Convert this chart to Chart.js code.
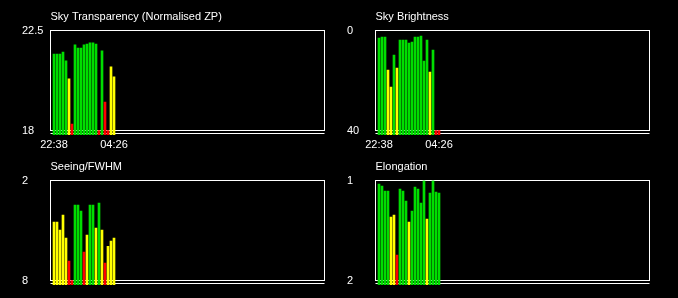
<!DOCTYPE html>
<html>
<head>
<meta charset="utf-8">
<script src="https://cdn.jsdelivr.net/npm/chart.js@4.4.1/dist/chart.umd.min.js"></script>
<style>
  html, body { margin: 0; padding: 0; background: #000; }
  #wrap { position: relative; width: 678px; height: 298px; overflow: hidden; }
  #wrap canvas { position: absolute; }
</style>
</head>
<body>
<div id="wrap">
  <canvas id="transp" width="330" height="150" style="left:0;top:0"></canvas>
  <canvas id="bright" width="330" height="150" style="left:325px;top:0"></canvas>
  <canvas id="seeing" width="330" height="150" style="left:0;top:150px"></canvas>
  <canvas id="elong" width="330" height="150" style="left:325px;top:150px"></canvas>
</div>
<script>
// time labels under the top row (first and last frame)
const timeLabels = ['22:38', '04:26'];
const timeLabelAt = [0, 20];

// one value per frame, 21 frames
const transparency = [21.44, 21.44, 21.44, 21.53, 21.13, 20.32, 18.29, 21.85, 21.71, 21.71, 21.85,
                      21.89, 21.94, 21.94, 21.89, 18.0, 21.58, 19.28, 18.0, 20.86, 20.41];
const brightness = [3.0, 2.6, 2.6, 15.8, 22.6, 9.8, 15.0, 3.8, 3.8, 3.8, 5.0,
                    4.6, 2.6, 2.6, 2.2, 12.2, 3.8, 16.6, 7.8, 40, 40];
const seeing = [4.49, 4.49, 4.97, 4.07, 5.45, 6.83, 8, 3.47, 3.47, 3.83, 6.29,
                5.27, 3.47, 3.47, 4.85, 3.35, 4.97, 6.95, 5.95, 5.63, 5.45];
const elongation = [1.035, 1.055, 1.105, 1.105, 1.365, 1.345, 1.745, 1.085, 1.105, 1.205, 1.415,
                    1.305, 1.065, 1.085, 1.225, 1.0, 1.385, 1.125, 1.0, 1.115, 1.125];

// axis end labels, top one first
const transpTicks = [22.5, 18];
const brightTicks = [0, 40];
const seeingTicks = [2, 8];
const elongTicks = [1, 2];

// quality limits: [green, yellow]
const transpLimits = [21, 20];
const brightLimits = [13, 25];
const seeingLimits = [4, 6.1];
const elongLimits = [1.33, 1.5];

Chart.defaults.font.family = '"Liberation Sans", Arial, sans-serif';
Chart.defaults.font.size = 11;
Chart.defaults.color = '#fff';

function grade(v, lim) {
    const higherBetter = lim[0] > lim[1];
    const ok = (a, b) => higherBetter ? a >= b : a <= b;
    if (ok(v, lim[0])) return '#00dd00';
    if (ok(v, lim[1])) return '#ffff00';
    return '#ff0000';
}

// white frame down to the bottom label, plus the base line under it
const frame = {
    id: 'frame',
    beforeDatasetsDraw(chart, args, opts) {
        const { ctx, chartArea: a, scales: { y } } = chart;
        const yb = y.getPixelForValue(opts.floor);
        ctx.save();
        ctx.strokeStyle = '#fff';
        ctx.lineWidth = 1;
        ctx.strokeRect(a.left, a.top, a.right - a.left, yb - a.top);
        ctx.beginPath();
        ctx.moveTo(a.left, yb + 3);
        ctx.lineTo(a.right, yb + 3);
        ctx.stroke();
        ctx.restore();
    }
};

function makePanel(id, title, values, ticks, limits, showTimes) {
    const [top, bottom] = ticks;
    const end = bottom + (bottom - top) * 0.045;
    const reversed = top < bottom;

    return new Chart(document.getElementById(id), {
        type: 'bar',
        data: {
            datasets: [{
                data: values.map((v, i) => ({ x: i, y: v })),
                backgroundColor: values.map(v => grade(v, limits)),
                borderWidth: 0,
                barThickness: 2,
                base: end
            }]
        },
        plugins: [frame],
        options: {
            responsive: false,
            animation: false,
            events: [],
            layout: { padding: { left: 22, right: 5.5, top: 0, bottom: 0 } },
            plugins: {
                legend: { display: false },
                tooltip: { enabled: false },
                frame: { floor: bottom },
                title: {
                    display: true,
                    text: title,
                    align: 'start',
                    fullSize: false,
                    color: '#fff',
                    font: { size: 11, weight: 'normal' },
                    padding: { top: 10, bottom: 7.3 }
                }
            },
            scales: {
                x: {
                    type: 'linear',
                    offset: false,
                    min: -1.1667,
                    max: 90.1667,
                    grid: { display: false, drawTicks: false, offset: false },
                    border: { display: false },
                    afterBuildTicks: s => { s.ticks = timeLabelAt.map(v => ({ value: v })); },
                    afterFit: s => { s.height = 15; },
                    ticks: {
                        display: showTimes,
                        autoSkip: false,
                        maxRotation: 0,
                        padding: 3,
                        color: '#fff',
                        callback: v => timeLabels[timeLabelAt.indexOf(v)]
                    }
                },
                y: {
                    min: reversed ? top : end,
                    max: reversed ? end : top,
                    reverse: reversed,
                    grid: { display: false, drawTicks: false },
                    border: { display: false },
                    afterBuildTicks: s => { s.ticks = ticks.map(v => ({ value: v })); },
                    afterFit: s => { s.width = 28.5; },
                    ticks: {
                        crossAlign: 'far',
                        color: '#fff',
                        callback: v => String(v)
                    }
                }
            }
        }
    });
}

makePanel('transp', 'Sky Transparency (Normalised ZP)', transparency, transpTicks, transpLimits, true);
makePanel('bright', 'Sky Brightness', brightness, brightTicks, brightLimits, true);
makePanel('seeing', 'Seeing/FWHM', seeing, seeingTicks, seeingLimits, false);
makePanel('elong', 'Elongation', elongation, elongTicks, elongLimits, false);
</script>
</body>
</html>
